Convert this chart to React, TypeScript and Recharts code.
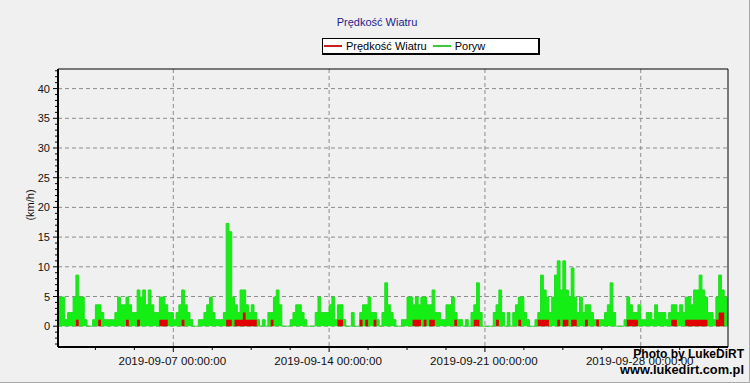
import React from 'react';
import { ComposedChart, Area, XAxis, YAxis, CartesianGrid, ReferenceArea } from 'recharts';

// time axis is in days counted from 2019-09-01 00:00, one sample every 3 hours
const FIRST_SAMPLE = 0.75;
const SAMPLE_STEP = 0.125;
const X_DOMAIN = [0.82, 30.92];
const Y_DOMAIN = [-3.5, 43.3];

// Poryw (km/h)
const gustValues = [
  2.3, 4.9, 4.9, 1.1, 2.3, 2.3, 4.9, 8.6, 4.9, 4.9,
  1.1, 0, 0, 1.1, 3.6, 3.6, 2.3, 1.1, 1.1, 1.1,
  1.1, 2.3, 4.9, 3.6, 3.6, 4.9, 3.6, 2.3, 2.3, 6.1,
  4.9, 6.1, 3.6, 6.1, 3.6, 2.3, 2.3, 4.9, 4.9, 3.6,
  2.3, 2.3, 1.1, 2.3, 3.6, 6.1, 3.6, 2.3, 1.1,
  0, 0, 1.1, 1.1, 2.3, 3.6, 4.9, 2.3, 1.1, 1.1, 1.1,
  2.3, 17.3, 15.9, 4.9, 3.6, 2.3, 6.1, 6.1, 3.6, 2.3,
  3.6, 2.3, 1.1, 0, 1.1, 0, 2.3, 2.3, 4.9, 6.1,
  3.6, 0, 0, 0, 1.1, 2.3, 3.6, 3.6, 2.3, 1.1,
  0, 0, 0, 2.3, 4.9, 2.3, 2.3,
  2.3, 3.6, 4.9, 1.1, 3.6, 3.6, 1.1,
  0, 0, 2.3, 0, 0, 2.3, 3.6, 3.6, 4.9, 2.3, 2.3, 1.1, 0,
  2.3, 7.3, 3.6, 2.3, 1.1, 0, 0,
  1.1, 1.1, 4.9, 4.9, 3.6, 4.9, 3.6, 4.9, 4.9, 3.6, 3.6, 6.1,
  2.3, 2.3, 1.1, 1.1, 3.6, 3.6, 4.9, 2.3, 1.1,
  1.1, 0, 1.1, 0, 2.3, 3.6, 7.3, 2.3,
  0, 0, 0, 0, 2.3, 3.6, 6.1, 2.3, 0, 2.3, 0,
  2.3, 3.6, 4.9, 4.9, 2.3, 1.1, 0, 0,
  1.1, 2.3, 8.6, 6.1, 4.9, 2.3, 4.9, 8.6, 11.0, 6.1,
  11.0, 6.1, 4.9, 9.8, 4.9, 2.3, 4.9, 2.3, 3.6, 3.6, 2.3,
  1.1, 1.1, 1.1, 1.1, 2.3, 3.6, 7.3, 2.3,
  0, 0, 0, 1.1, 4.9, 3.6, 2.3, 2.3, 3.6, 1.1,
  1.1, 2.3, 2.3, 1.1, 3.6, 2.3, 2.3, 2.3, 1.1, 2.3,
  3.6, 3.6, 2.3, 3.6, 2.3, 4.9, 4.9, 3.6, 6.1, 6.1,
  8.6, 6.1, 4.9, 2.3, 2.3, 1.1, 4.9, 8.6, 6.1, 4.9,
  2.3, 2.3,
];

// Prędkość Wiatru (km/h)
const speedValues = [
  0, 0, 0, 0, 0, 0, 0, 1.1, 0, 0,
  0, 0, 0, 0, 0, 1.1, 0, 0, 0, 0,
  0, 0, 0, 0, 0, 1.1, 0, 0, 0, 1.1,
  0, 0, 0, 0, 0, 0, 0, 1.1, 1.1, 1.1,
  0, 0, 0, 0, 0, 1.1, 0, 0, 0, 0,
  0, 0, 0, 0, 0, 0, 0, 0, 0, 0,
  0, 1.1, 1.1, 0, 1.1, 1.1, 1.1, 2.3, 1.1, 1.1,
  1.1, 1.1, 0, 0, 0, 0, 0, 1.1, 0, 0,
  0, 0, 0, 0, 0, 0, 0, 0, 0, 0,
  0, 0, 0, 0, 0, 0, 0, 0, 0, 0,
  0, 1.1, 1.1, 0, 0, 0, 0, 0, 0, 1.1,
  0, 1.1, 0, 0, 1.1, 0, 0, 0, 0, 0,
  0, 0, 0, 0, 0, 0, 0, 0, 1.1, 1.1,
  1.1, 0, 1.1, 0, 1.1, 1.1, 0, 0, 0, 0,
  0, 0, 0, 1.1, 0, 0, 0, 0, 0, 0,
  1.1, 1.1, 0, 0, 0, 0, 0, 0, 1.1, 0,
  0, 0, 0, 0, 0, 0, 1.1, 0, 0, 0,
  0, 0, 0, 1.1, 1.1, 1.1, 1.1, 0, 0, 0,
  1.1, 0, 1.1, 1.1, 0, 1.1, 1.1, 0, 0, 0,
  1.1, 0, 0, 0, 1.1, 0, 0, 0, 0, 0,
  0, 0, 0, 0, 0, 1.1, 1.1, 1.1, 1.1, 0,
  0, 0, 0, 0, 0, 0, 0, 0, 0, 0,
  0, 1.1, 1.1, 0, 0, 0, 1.1, 1.1, 1.1, 1.1,
  1.1, 1.1, 1.1, 1.1, 0, 0, 0, 1.1, 2.3, 2.3,
  0, 0, 0,
];

const majorDays = [6, 13, 20, 27];
const majorLabels = ['2019-09-07 00:00:00', '2019-09-14 00:00:00', '2019-09-21 00:00:00', '2019-09-28 00:00:00'];
const minorDays = [2.5, 4.25, 7.75, 9.5, 11.25, 14.75, 16.5, 18.25, 21.75, 23.5, 25.25, 28.75, 30.5];

const yMajor = [0, 5, 10, 15, 20, 25, 30, 35, 40];
const yMinor = [
  -3, -2, -1, 1, 2, 3, 4, 6, 7, 8, 9, 11, 12, 13, 14, 16, 17, 18, 19, 21, 22, 23, 24,
  26, 27, 28, 29, 31, 32, 33, 34, 36, 37, 38, 39, 41, 42, 43,
];

const series = [
  { key: 'speed', name: 'Prędkość Wiatru', legendColor: '#c8201c' },
  { key: 'gust', name: 'Poryw', legendColor: '#3cc83c' },
];

const rows = gustValues.map((g, i) => ({
  day: FIRST_SAMPLE + i * SAMPLE_STEP,
  gust: g,
  speed: speedValues[i],
}));

const FONT = '"Liberation Sans", Arial, sans-serif';

const XTick = (props: any) => {
  const { x, y, payload } = props;
  const idx = majorDays.indexOf(payload.value);
  if (idx < 0) {
    return <line x1={x} y1={y + 1} x2={x} y2={y + 3} stroke="#000" />;
  }
  return (
    <g>
      <line x1={x} y1={y + 1} x2={x} y2={y + 5} stroke="#000" />
      <text
        x={x - 1}
        y={y + 18}
        textAnchor="middle"
        fontSize={11.6}
        fontFamily={'"Liberation Sans Narrow", ' + FONT}
        fill="#111"
      >
        {majorLabels[idx]}
      </text>
    </g>
  );
};

const YTick = (props: any) => {
  const { x, y, payload } = props;
  if (!yMajor.includes(payload.value)) {
    return <line x1={x - 3} y1={y} x2={x - 1} y2={y} stroke="#000" />;
  }
  return (
    <g>
      <line x1={x - 5} y1={y} x2={x - 1} y2={y} stroke="#000" />
      <text x={x - 8} y={y + 4} textAnchor="end" fontSize={11} fontFamily={FONT} fill="#111">
        {payload.value}
      </text>
    </g>
  );
};

export default function App() {
  return (
    <div
      style={{
        position: 'relative',
        width: 750,
        height: 383,
        background: '#f0f0f0',
        fontFamily: FONT,
        boxSizing: 'border-box',
        borderRight: '1px solid #a8a8a8',
        borderBottom: '1px solid #a8a8a8',
        overflow: 'hidden',
      }}
    >
      <style>{'body{margin:0}'}</style>
      <div
        style={{
          position: 'absolute',
          left: 2,
          width: 750,
          top: 16,
          textAlign: 'center',
          fontSize: 11,
          color: '#22228c',
        }}
      >
        Prędkość Wiatru
      </div>

      <ComposedChart
        width={750}
        height={383}
        data={rows}
        margin={{ top: 69, right: 22, bottom: 6, left: 18 }}
      >
        <CartesianGrid
          stroke="#8c8c8c"
          strokeDasharray="4 3"
          horizontalValues={yMajor}
          verticalValues={majorDays}
        />
        <XAxis
          dataKey="day"
          type="number"
          domain={X_DOMAIN}
          allowDataOverflow
          ticks={[...majorDays, ...minorDays].sort((a, b) => a - b)}
          interval={0}
          tick={<XTick />}
          tickLine={false}
          tickSize={0}
          tickMargin={0}
          height={30}
          axisLine={{ stroke: '#000', strokeWidth: 2 }}
        />
        <YAxis
          type="number"
          domain={Y_DOMAIN}
          allowDataOverflow
          ticks={[...yMajor, ...yMinor].sort((a, b) => a - b)}
          interval={0}
          tick={<YTick />}
          tickLine={false}
          tickSize={0}
          tickMargin={0}
          width={40}
          axisLine={{ stroke: '#000', strokeWidth: 2 }}
        />
        <Area
          type="stepAfter"
          dataKey="gust"
          name="Poryw"
          stroke="#22dd22"
          strokeWidth={1}
          fill="#14ee14"
          fillOpacity={1}
          dot={false}
          activeDot={false}
          isAnimationActive={false}
        />
        <Area
          type="stepAfter"
          dataKey="speed"
          name="Prędkość Wiatru"
          stroke="none"
          fill="#e00000"
          fillOpacity={1}
          dot={false}
          activeDot={false}
          isAnimationActive={false}
        />
        <ReferenceArea
          x1={X_DOMAIN[0]}
          x2={X_DOMAIN[1]}
          y1={Y_DOMAIN[0]}
          y2={Y_DOMAIN[1]}
          fill="none"
          stroke="#000"
          strokeWidth={1}
          ifOverflow="visible"
        />
      </ComposedChart>

      {/* legend */}
      <div
        style={{
          position: 'absolute',
          left: 322,
          top: 38,
          width: 215,
          height: 14,
          background: '#fff',
          borderTop: '1px solid #000',
          borderLeft: '1px solid #000',
          borderRight: '2px solid #000',
          borderBottom: '2px solid #000',
          display: 'flex',
          alignItems: 'center',
          fontSize: 11,
          color: '#000',
        }}
      >
        {series.map((s, i) => (
          <div key={s.key} style={{ display: 'flex', alignItems: 'center', marginLeft: i === 0 ? 1 : 6 }}>
            <span style={{ display: 'inline-block', width: 18, height: 2, background: s.legendColor, marginRight: 4 }} />
            <span>{s.name}</span>
          </div>
        ))}
      </div>

      {/* axis title */}
      <div
        style={{
          position: 'absolute',
          left: 30,
          top: 205,
          transform: 'translate(-50%, -50%) rotate(-90deg)',
          fontSize: 11,
          color: '#111',
          whiteSpace: 'nowrap',
        }}
      >
        (km/h)
      </div>

      {/* watermark */}
      <div
        style={{
          position: 'absolute',
          right: 5,
          top: 347,
          textAlign: 'right',
          fontWeight: 'bold',
          lineHeight: '15px',
          color: '#000',
        }}
      >
        <div style={{ fontSize: 12 }}>Photo by LukeDiRT</div>
        <div style={{ fontSize: 12.8 }}>www.lukedirt.com.pl</div>
      </div>
    </div>
  );
}
